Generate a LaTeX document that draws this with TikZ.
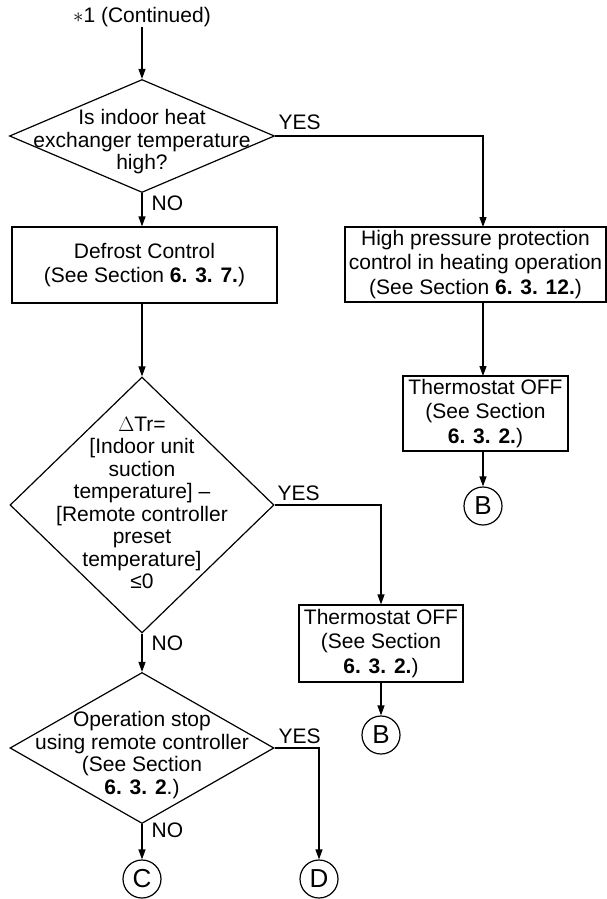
\documentclass[tikz,border=0pt]{standalone}
\usepackage{fontspec}
\setmainfont{Liberation Sans}
\usetikzlibrary{shapes.geometric,arrows.meta}
\begin{document}
\begin{tikzpicture}[x=1pt,y=-1pt,line width=1.2pt,
  every node/.style={inner sep=0pt},
  txtfont/.style={font=\fontsize{21}{24.5}\selectfont},
  box/.style={draw,rectangle,align=center,txtfont},
  dia/.style={draw,diamond},
  diatext/.style={align=center,font=\fontsize{21}{22.5}\selectfont},
  conn/.style={draw,circle,minimum size=38pt,font=\fontsize{26}{26}\selectfont},
  lbl/.style={anchor=west,font=\fontsize{21}{24}\selectfont},
  arr/.style={-{Triangle[length=10pt,width=7pt]}}]
\useasboundingbox (0,0) rectangle (607,899);
% title
\node[txtfont] (title) at (142,17) {$\ast$1 (Continued)};
% decision 1
\node[dia,minimum width=265pt,minimum height=113pt] (d1) at (142,136) {};
\node[diatext] (d1t) at (142,142) {Is indoor heat\\exchanger temperature\\high?};
% defrost box
\node[box,minimum width=265pt,minimum height=76pt] (def) at (144.5,265) {Defrost Control\\(See Section \textbf{6. 3. 7.})};
% high pressure box
\node[box,minimum width=261pt,minimum height=75pt] (hp) at (475.5,264.5) {High pressure protection\\control in heating operation\\(See Section \textbf{6. 3. 12.})};
\coordinate (hpin) at (483,227);
\coordinate (hpout) at (483,302);
% thermostat 1
\node[box,minimum width=165pt,minimum height=75pt] (th1) at (485.5,413.5) {Thermostat OFF\\(See Section\\\textbf{6. 3. 2.})};
\coordinate (th1in) at (483,376);
\coordinate (th1out) at (483,451);
\node[conn] (b1) at (483,506) {B};
% decision 2
\node[dia,minimum width=264pt,minimum height=256pt] (d2) at (142,505) {};
\node[diatext] (d2t) at (142,503) {$\Delta$Tr=\\{[}Indoor unit\\suction\\temperature] –\\{[}Remote controller\\preset\\temperature]\\≤0};
% thermostat 2
\node[box,minimum width=164pt,minimum height=77pt] (th2) at (381,643.5) {Thermostat OFF\\(See Section\\\textbf{6. 3. 2.})};
\node[conn] (b2) at (381,735) {B};
% decision 3
\node[dia,minimum width=264pt,minimum height=151pt] (d3) at (142,748) {};
\node[diatext] (d3t) at (142,755) {Operation stop\\using remote controller\\(See Section\\\textbf{6. 3. 2}.)};
\node[conn] (c) at (142,879) {C};
\node[conn] (dd) at (319,879) {D};
% labels
\node[lbl] (yes1) at (278,122) {YES};
\node[lbl] (no1) at (151,203) {NO};
\node[lbl] (yes2) at (277,493) {YES};
\node[lbl] (no2) at (151,643) {NO};
\node[lbl] (yes3) at (278,736) {YES};
\node[lbl] (no3) at (151,830) {NO};
% connectors
\draw[arr] (title.south) -- (d1.north);
\draw[arr] (d1.east) -| (hpin);
\draw[arr] (d1.south) -- (d1.south |- def.north);
\draw[arr] (def.south -| d2.north) -- (d2.north);
\draw[arr] (hpout) -- (th1in);
\draw[arr] (th1out) -- (b1.north);
\draw[arr] (d2.east) -| (th2.north);
\draw[arr] (th2.south) -- (b2.north);
\draw[arr] (d2.south) -- (d3.north);
\draw[arr] (d3.south) -- (c.north);
\draw[arr] (d3.east) -| (dd.north);
\end{tikzpicture}
\end{document}
